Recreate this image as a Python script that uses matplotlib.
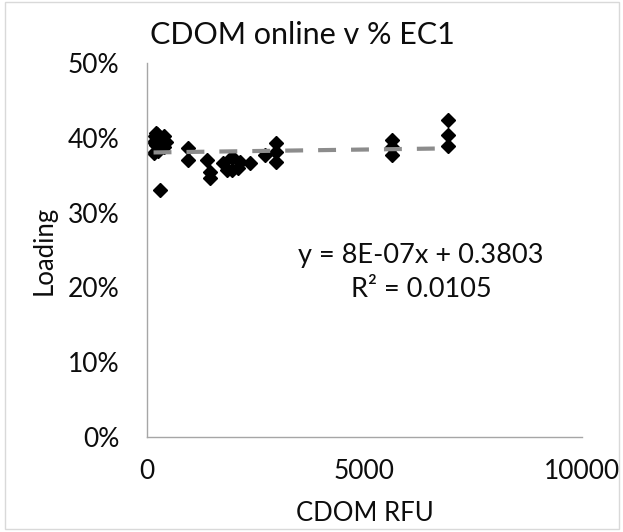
import matplotlib
matplotlib.use("Agg")
import matplotlib.pyplot as plt
from matplotlib.ticker import FuncFormatter
import numpy as np

plt.rcParams['font.family'] = ['Lato', 'DejaVu Sans']

cdom_rfu = [150, 180, 200, 230, 250, 280, 300, 320, 350, 380, 400, 150, 250, 430, 200, 300,
            950, 950,
            1380, 1450, 1450, 1750, 1950, 1950, 1840, 2140, 2100, 2370, 2710, 2970, 2970, 2970,
            5630, 5630, 5630,
            6920, 6920, 6920]
loading = [0.395, 0.402, 0.390, 0.405, 0.398, 0.385, 0.400, 0.392, 0.396, 0.403, 0.388, 0.380, 0.382, 0.395, 0.406, 0.330,
           0.386, 0.370,
           0.370, 0.354, 0.346, 0.366, 0.374, 0.357, 0.357, 0.368, 0.360, 0.366, 0.377, 0.393, 0.381, 0.368,
           0.397, 0.388, 0.377,
           0.424, 0.404, 0.389]

slope = 8e-7
intercept = 0.3803
x_ticks = [0, 5000, 10000]
y_ticks = [0, 0.1, 0.2, 0.3, 0.4, 0.5]

TXT = '#0d0d0d'

fig = plt.figure(figsize=(6.23, 5.32), dpi=100)
fig.patches.append(plt.Rectangle((0.008, 0.006), 0.986, 0.99, transform=fig.transFigure,
                                 fill=False, edgecolor='#d9d9d9', linewidth=1))
ax = fig.add_axes([0.236, 0.1786, 0.698, 0.703])

ax.plot(cdom_rfu, loading, linestyle='none', marker='D', markersize=7.5, color='black')
xl = np.array([min(cdom_rfu), max(cdom_rfu)])
ax.plot(xl, slope * xl + intercept, linestyle=(0, (4.3, 3.6)), color='#8c8c8c', linewidth=3)

ax.set_xlim(0, 10000)
ax.set_ylim(0, 0.5)
ax.set_xticks(x_ticks)
ax.set_yticks(y_ticks)
ax.yaxis.set_major_formatter(FuncFormatter(lambda v, p: f"{v*100:.0f}%"))
ax.tick_params(length=0, labelsize=19, colors=TXT)
ax.tick_params(axis='x', pad=16)
ax.tick_params(axis='y', pad=20)
for s in ['top', 'right']:
    ax.spines[s].set_visible(False)
for s in ['left', 'bottom']:
    ax.spines[s].set_color('#a6a6a6')
    ax.spines[s].set_linewidth(1)

fig.text(0.485, 1 - 35 / 532, 'CDOM online v % EC1', fontsize=22, color=TXT,
         ha='center', va='center')
ax.set_xlabel('CDOM RFU', fontsize=18.5, color=TXT, labelpad=12)
ax.set_ylabel('Loading', fontsize=18.5, color=TXT, labelpad=8)

ax.text(0.63, 0.44, 'y = 8E-07x + 0.3803\nR² = 0.0105', transform=ax.transAxes,
        ha='center', va='center', fontsize=19.5, color=TXT, linespacing=1.45)

fig.savefig('out.png', dpi=100)
